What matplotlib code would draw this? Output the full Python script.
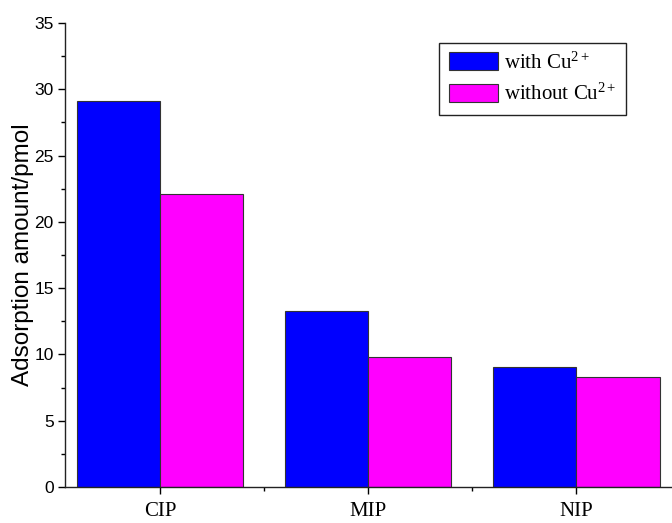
import matplotlib
matplotlib.use('Agg')
import matplotlib.pyplot as plt
import numpy as np
from matplotlib.ticker import MultipleLocator, FixedLocator

plt.rcParams['mathtext.fontset'] = 'custom'
plt.rcParams['mathtext.rm'] = 'Liberation Serif'
plt.rcParams['mathtext.it'] = 'Liberation Serif:italic'

# Data
categories = ['CIP', 'MIP', 'NIP']
with_cu = [29.1, 13.3, 9.05]
without_cu = [22.1, 9.8, 8.3]

fig = plt.figure(figsize=(6.72, 5.23), dpi=100)
ax = fig.add_axes([0.0967, 0.0688, 0.9033, 0.8872])

x = np.arange(len(categories))
w = 0.4
ax.bar(x - w / 2, with_cu, w, color='#0000ff', edgecolor='#333333', linewidth=0.8,
       label=r'with Cu$^{\mathregular{2+}}$')
ax.bar(x + w / 2, without_cu, w, color='#ff00ff', edgecolor='#333333', linewidth=0.8,
       label=r'without Cu$^{\mathregular{2+}}$')

ax.set_xlim(-0.457, 2.46)
ax.set_ylim(0, 35)
ax.spines['top'].set_visible(False)
ax.spines['right'].set_visible(False)
for s in ['left', 'bottom']:
    ax.spines[s].set_linewidth(1.0)
    ax.spines[s].set_color('#222222')

ax.set_xticks(x)
ax.set_xticklabels(categories, fontfamily='Liberation Serif', fontsize=15)
ax.xaxis.set_minor_locator(FixedLocator([0.5, 1.5]))
ax.yaxis.set_major_locator(MultipleLocator(5))
ax.yaxis.set_minor_locator(MultipleLocator(2.5))
ax.tick_params(axis='both', which='major', length=5, width=1.0, direction='out')
ax.tick_params(axis='both', which='minor', length=3, width=1.0, direction='out')
ax.tick_params(axis='x', pad=6)
ax.tick_params(axis='y', pad=3)
for lab in ax.get_yticklabels():
    lab.set_fontfamily('Liberation Sans')
    lab.set_fontsize(12.5)

ax.set_ylabel('Adsorption amount/pmol', fontfamily='Liberation Sans', fontsize=17.5,
              labelpad=0)

leg = ax.legend(loc='upper right', bbox_to_anchor=(0.924, 0.957),
                prop={'family': 'Liberation Serif', 'size': 15},
                fancybox=False, edgecolor='#222222', framealpha=1,
                handlelength=2.35, handleheight=0.95, handletextpad=0.3,
                borderpad=0.45, labelspacing=0.5, borderaxespad=0)
leg.get_frame().set_linewidth(1.0)

fig.savefig('out.png', dpi=100)
